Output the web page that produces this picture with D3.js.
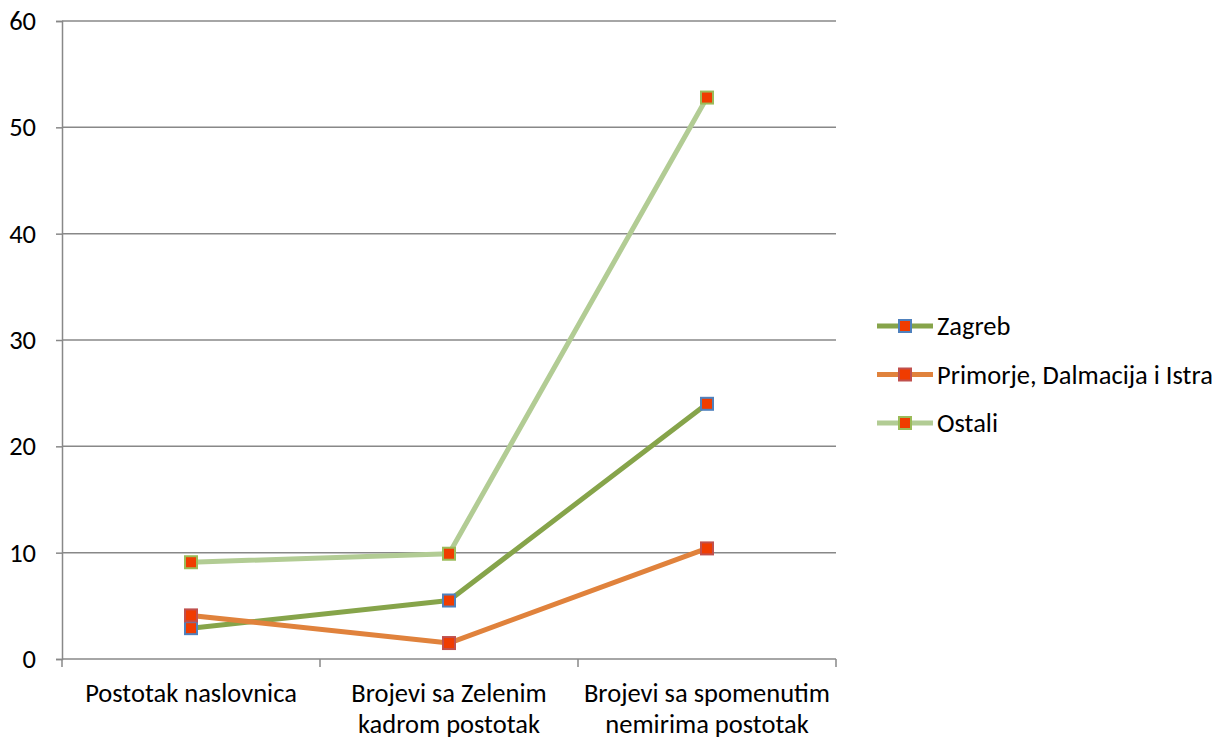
<!DOCTYPE html>
<html>
<head>
<meta charset="utf-8">
<script src="https://cdn.jsdelivr.net/npm/d3@7"></script>
<style>
  body { margin: 0; background: #fff; }
  text { font-family: Carlito, Calibri, "Open Sans", sans-serif; fill: #000; }
</style>
</head>
<body>
<div id="chart"></div>
<script>
const WIDTH = 1225;
const HEIGHT = 744;
const margin = {top: 21, right: 389, bottom: 85, left: 62};

const categories = [
  ['Postotak naslovnica'],
  ['Brojevi sa Zelenim', 'kadrom postotak'],
  ['Brojevi sa spomenutim', 'nemirima postotak']
];
const seriesNames = ['Zagreb', 'Primorje, Dalmacija i Istra', 'Ostali'];
const zagreb = [2.9, 5.5, 24.0];
const primorje = [4.1, 1.5, 10.4];
const ostali = [9.1, 9.9, 52.8];
const yTicks = [0, 10, 20, 30, 40, 50, 60];

const lineColors = ['#86a44a', '#e0823c', '#b2cc94'];
const markerStrokes = ['#4f81bd', '#c0504d', '#9bbb59'];
const markerFill = '#f03c00';
const fontSize = '26.5px';

const series = [zagreb, primorje, ostali].map((values, i) => ({name: seriesNames[i], values}));

const w = WIDTH - margin.left - margin.right;
const h = HEIGHT - margin.top - margin.bottom;

const svg = d3.select('#chart')
  .append('svg')
    .attr('width', WIDTH)
    .attr('height', HEIGHT);

const g = svg.append('g')
  .attr('transform', `translate(${margin.left},${margin.top})`);

const x = d3.scaleBand()
  .domain(d3.range(categories.length))
  .range([0, w]);

const y = d3.scaleLinear()
  .domain([0, 60])
  .range([h, 0]);

// grid lines
g.append('g')
  .selectAll('line')
  .data(yTicks.filter(d => d > 0))
  .join('line')
    .attr('x1', 0)
    .attr('x2', w)
    .attr('y1', d => y(d))
    .attr('y2', d => y(d))
    .attr('stroke', '#888')
    .attr('stroke-width', 1.5);

// y axis
const yAxis = g.append('g')
  .call(d3.axisLeft(y).tickValues(yTicks).tickSize(6).tickPadding(20).tickFormat(d3.format('d')));
yAxis.select('.domain').attr('stroke', '#888').attr('stroke-width', 1.5);
yAxis.selectAll('.tick line').attr('stroke', '#888').attr('stroke-width', 1.5);
yAxis.selectAll('.tick text').style('font-size', fontSize).attr('fill', '#000');

// x axis
const xAxis = g.append('g')
  .attr('transform', `translate(0,${h})`);
xAxis.append('line')
  .attr('x1', 0).attr('x2', w)
  .attr('stroke', '#888').attr('stroke-width', 1.5);
xAxis.selectAll('.xtick')
  .data(d3.range(categories.length + 1))
  .join('line')
    .attr('class', 'xtick')
    .attr('x1', i => i * x.bandwidth())
    .attr('x2', i => i * x.bandwidth())
    .attr('y1', 0)
    .attr('y2', 8)
    .attr('stroke', '#888').attr('stroke-width', 1.5);

const labels = xAxis.selectAll('.xlabel')
  .data(categories)
  .join('text')
    .attr('class', 'xlabel')
    .attr('text-anchor', 'middle')
    .attr('x', (_, i) => x(i) + x.bandwidth() / 2)
    .attr('y', 43)
    .style('font-size', fontSize);
labels.selectAll('tspan')
  .data(d => d)
  .join('tspan')
    .attr('x', function() { return this.parentNode.getAttribute('x'); })
    .attr('dy', (_, j) => j === 0 ? 0 : 31)
    .text(d => d);

// lines
const line = d3.line()
  .x((_, i) => x(i) + x.bandwidth() / 2)
  .y(d => y(d));

const ms = 12;
const drawOrder = [2, 0, 1];

drawOrder.forEach(si => {
  const s = series[si];
  g.append('path')
    .datum(s.values)
    .attr('d', line)
    .attr('fill', 'none')
    .attr('stroke', lineColors[si])
    .attr('stroke-width', 5)
    .attr('stroke-linejoin', 'round');
});

drawOrder.forEach(si => {
  const s = series[si];
  g.append('g')
    .selectAll('rect')
    .data(s.values)
    .join('rect')
      .attr('x', (_, i) => x(i) + x.bandwidth() / 2 - ms / 2)
      .attr('y', d => y(d) - ms / 2)
      .attr('width', ms)
      .attr('height', ms)
      .attr('fill', markerFill)
      .attr('stroke', markerStrokes[si])
      .attr('stroke-width', 2);
});

// legend
const legend = svg.append('g')
  .attr('transform', 'translate(877,326)');

const item = legend.selectAll('g')
  .data(series)
  .join('g')
    .attr('transform', (_, i) => `translate(0,${i * 48.5})`);

item.append('line')
  .attr('x1', 0).attr('x2', 56)
  .attr('stroke', (_, i) => lineColors[i])
  .attr('stroke-width', 5);
item.append('rect')
  .attr('x', 28 - ms / 2)
  .attr('y', -ms / 2)
  .attr('width', ms)
  .attr('height', ms)
  .attr('fill', markerFill)
  .attr('stroke', (_, i) => markerStrokes[i])
  .attr('stroke-width', 2);
item.append('text')
  .attr('x', 60)
  .attr('dy', '0.35em')
  .style('font-size', fontSize)
  .text(d => d.name);
</script>
</body>
</html>
